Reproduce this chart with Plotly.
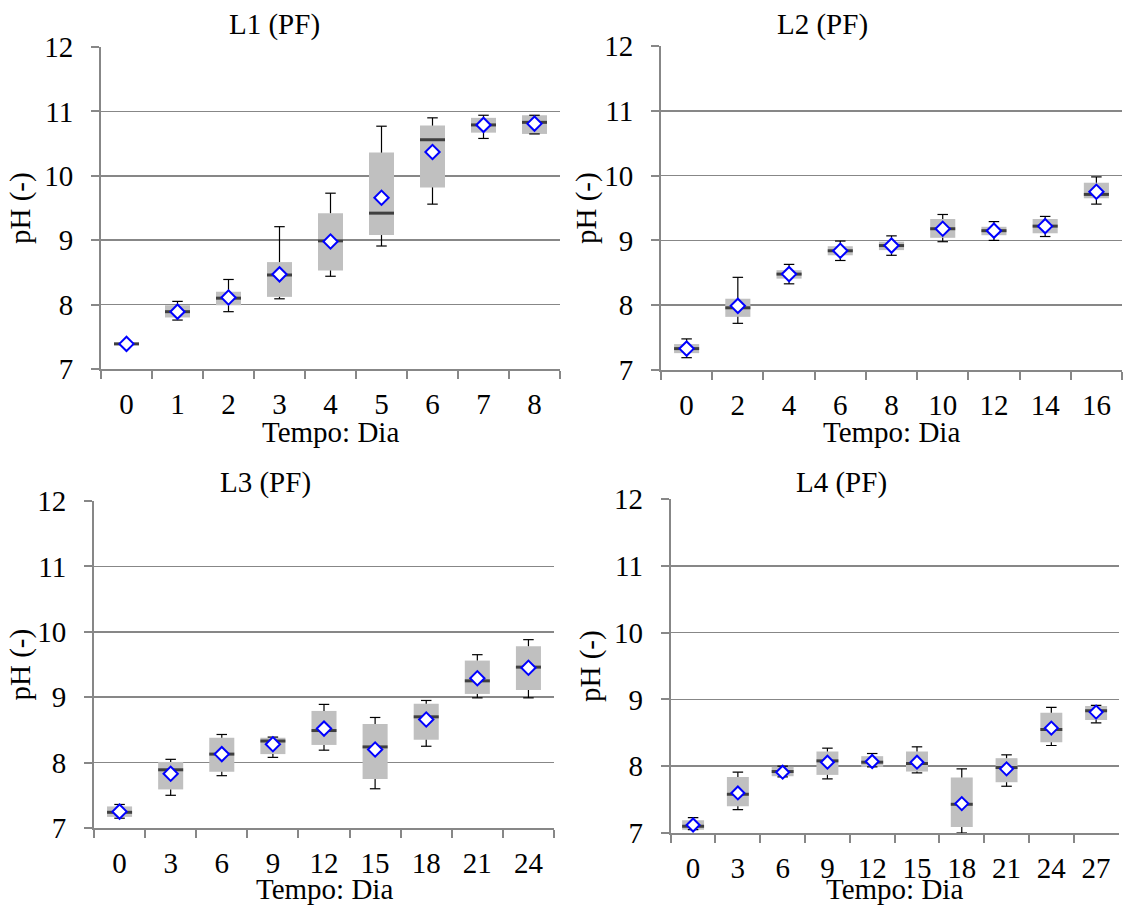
import plotly.graph_objects as go

W, H = 1123, 907

# ---------------- data ----------------
# L1 (PF)
l1_days = ["0", "1", "2", "3", "4", "5", "6", "7", "8"]
l1_lower = [7.37, 7.76, 7.89, 8.09, 8.44, 8.91, 9.56, 10.58, 10.65]
l1_q1 = [7.37, 7.80, 7.99, 8.12, 8.53, 9.08, 9.82, 10.67, 10.65]
l1_median = [7.39, 7.89, 8.10, 8.46, 8.99, 9.42, 10.56, 10.79, 10.83]
l1_q3 = [7.41, 7.99, 8.20, 8.66, 9.42, 10.36, 10.78, 10.90, 10.94]
l1_upper = [7.41, 8.05, 8.39, 9.21, 9.73, 10.77, 10.90, 10.94, 10.94]
l1_mean = [7.39, 7.89, 8.11, 8.47, 8.98, 9.66, 10.37, 10.79, 10.81]

# L2 (PF)
l2_days = ["0", "2", "4", "6", "8", "10", "12", "14", "16"]
l2_lower = [7.19, 7.72, 8.33, 8.69, 8.77, 8.98, 9.00, 9.06, 9.56]
l2_q1 = [7.26, 7.82, 8.41, 8.77, 8.85, 9.04, 9.08, 9.11, 9.65]
l2_median = [7.33, 7.96, 8.48, 8.84, 8.92, 9.18, 9.15, 9.22, 9.71]
l2_q3 = [7.40, 8.10, 8.54, 8.91, 8.98, 9.33, 9.21, 9.33, 9.89]
l2_upper = [7.48, 8.43, 8.63, 8.99, 9.07, 9.40, 9.29, 9.37, 9.98]
l2_mean = [7.33, 7.99, 8.48, 8.84, 8.92, 9.18, 9.15, 9.22, 9.75]

# L3 (PF)
l3_days = ["0", "3", "6", "9", "12", "15", "18", "21", "24"]
l3_lower = [7.15, 7.50, 7.80, 8.08, 8.19, 7.60, 8.25, 8.99, 8.99]
l3_q1 = [7.17, 7.59, 7.86, 8.13, 8.27, 7.75, 8.35, 9.05, 9.11]
l3_median = [7.24, 7.89, 8.13, 8.33, 8.49, 8.24, 8.70, 9.25, 9.46]
l3_q3 = [7.33, 8.01, 8.38, 8.38, 8.79, 8.59, 8.90, 9.56, 9.78]
l3_upper = [7.36, 8.05, 8.43, 8.39, 8.89, 8.69, 8.95, 9.65, 9.88]
l3_mean = [7.25, 7.83, 8.13, 8.28, 8.52, 8.20, 8.66, 9.29, 9.45]

# L4 (PF)
l4_days = ["0", "3", "6", "9", "12", "15", "18", "21", "24", "27"]
l4_lower = [7.05, 7.35, 7.84, 7.81, 7.99, 7.90, 7.00, 7.70, 8.31, 8.65]
l4_q1 = [7.05, 7.40, 7.85, 7.87, 7.99, 7.92, 7.09, 7.76, 8.36, 8.69]
l4_median = [7.10, 7.58, 7.92, 8.08, 8.06, 8.04, 7.43, 7.98, 8.55, 8.83]
l4_q3 = [7.19, 7.84, 7.99, 8.22, 8.15, 8.22, 7.83, 8.12, 8.80, 8.90]
l4_upper = [7.23, 7.91, 8.00, 8.27, 8.19, 8.29, 7.96, 8.17, 8.88, 8.91]
l4_mean = [7.12, 7.60, 7.91, 8.06, 8.07, 8.06, 7.44, 7.96, 8.57, 8.81]

titles = ["L1 (PF)", "L2 (PF)", "L3 (PF)", "L4 (PF)"]
x_title = "Tempo: Dia"
y_title = "pH (-)"
y_ticks = [7, 8, 9, 10, 11, 12]

# ---------------- style / layout ----------------
FONT = "'Liberation Serif', 'Times New Roman', serif"
GRAY = "#878787"
BOX = "#C0C0C0"
MED = "#3F3F3F"
BLUE = "#0000FF"

# plot areas in pixels: (x0, x1, ytop, ybottom)
areas = [
    (101, 560, 47, 369),
    (661, 1122, 46, 370),
    (94, 554, 501, 828),
    (670.7, 1118.5, 499, 833),
]
title_pos = [(274, 24), (822, 24), (265, 483), (841, 482)]
ytitle_x = [20, 586, 20, 590]
xtitle_y = [432, 432, 889, 889]

panels = [
    (l1_days, l1_lower, l1_q1, l1_median, l1_q3, l1_upper, l1_mean),
    (l2_days, l2_lower, l2_q1, l2_median, l2_q3, l2_upper, l2_mean),
    (l3_days, l3_lower, l3_q1, l3_median, l3_q3, l3_upper, l3_mean),
    (l4_days, l4_lower, l4_q1, l4_median, l4_q3, l4_upper, l4_mean),
]

fig = go.Figure()
layout = dict(
    template="none",
    width=W, height=H,
    margin=dict(l=0, r=0, t=0, b=0, autoexpand=False),
    paper_bgcolor="white", plot_bgcolor="white",
    showlegend=False,
    font=dict(family=FONT, size=29, color="black"),
    annotations=[],
)

BOXW = 0.49
for i, (days, lo, q1, med, q3, up, mean) in enumerate(panels):
    n = i + 1
    xa = "x" if n == 1 else f"x{n}"
    ya = "y" if n == 1 else f"y{n}"
    x0, x1, yt, yb = areas[i]
    cat_px = (x1 - x0) / len(days)
    box_px = BOXW * cat_px

    # boxes (q1..q3)
    fig.add_trace(go.Bar(
        x=days, y=[b - a for a, b in zip(q1, q3)], base=q1,
        width=BOXW, marker=dict(color=BOX, line=dict(width=0)),
        xaxis=xa, yaxis=ya, hoverinfo="skip",
    ))
    # upper whiskers with caps
    fig.add_trace(go.Scatter(
        x=days, y=up, mode="markers", xaxis=xa, yaxis=ya,
        marker=dict(symbol="line-ew", size=7.5, color="black",
                    line=dict(color="black", width=1.2)),
        error_y=dict(type="data", symmetric=False, array=[0] * len(days),
                     arrayminus=[u - b for u, b in zip(up, q3)],
                     width=0, thickness=1.2, color="black"),
        hoverinfo="skip",
    ))
    # lower whiskers with caps
    fig.add_trace(go.Scatter(
        x=days, y=lo, mode="markers", xaxis=xa, yaxis=ya,
        marker=dict(symbol="line-ew", size=7.5, color="black",
                    line=dict(color="black", width=1.2)),
        error_y=dict(type="data", symmetric=False,
                     array=[a - l for a, l in zip(q1, lo)],
                     arrayminus=[0] * len(days),
                     width=0, thickness=1.2, color="black"),
        hoverinfo="skip",
    ))
    # medians
    fig.add_trace(go.Scatter(
        x=days, y=med, mode="markers", xaxis=xa, yaxis=ya,
        marker=dict(symbol="line-ew", size=box_px / 1.4, color=MED,
                    line=dict(color=MED, width=3)),
        hoverinfo="skip",
    ))
    # means
    fig.add_trace(go.Scatter(
        x=days, y=mean, mode="markers", xaxis=xa, yaxis=ya,
        marker=dict(symbol="diamond", size=11 if n < 4 else 10, color="white",
                    line=dict(color=BLUE, width=2)),
        hoverinfo="skip",
    ))

    xkey = "xaxis" if n == 1 else f"xaxis{n}"
    ykey = "yaxis" if n == 1 else f"yaxis{n}"
    layout[xkey] = dict(
        domain=[x0 / W, x1 / W], anchor=ya, type="category",
        range=[-0.5, len(days) - 0.5], tickson="boundaries",
        showline=True, linecolor=GRAY, linewidth=2,
        ticks="outside", ticklen=8, tickwidth=2, tickcolor=GRAY,
        showgrid=False, zeroline=False, automargin=False,
        tickfont=dict(family=FONT, size=29, color="black"),
        ticklabelstandoff=8,
        fixedrange=True,
    )
    layout[ykey] = dict(
        domain=[1 - yb / H, 1 - yt / H], anchor=xa,
        range=[7, 12], tickvals=y_ticks,
        showline=True, linecolor=GRAY, linewidth=2,
        ticks="outside", ticklen=8, tickwidth=2, tickcolor=GRAY,
        showgrid=True, gridcolor=GRAY, gridwidth=1.5,
        zeroline=False, automargin=False,
        tickfont=dict(family=FONT, size=29, color="black"),
        ticklabelstandoff=12,
        fixedrange=True,
    )

    tx, ty = title_pos[i]
    layout["annotations"].append(dict(
        text=titles[i], x=tx / W, y=1 - ty / H, xref="paper", yref="paper",
        xanchor="center", yanchor="middle", showarrow=False,
        font=dict(family=FONT, size=29, color="black"),
    ))
    layout["annotations"].append(dict(
        text=x_title, x=(x0 + x1) / 2 / W, y=1 - xtitle_y[i] / H,
        xref="paper", yref="paper", xanchor="center", yanchor="middle",
        showarrow=False, font=dict(family=FONT, size=29, color="black"),
    ))
    layout["annotations"].append(dict(
        text=y_title, x=ytitle_x[i] / W, y=1 - (yt + yb) / 2 / H,
        xref="paper", yref="paper", xanchor="center", yanchor="middle",
        textangle=-90, showarrow=False,
        font=dict(family=FONT, size=29, color="black"),
    ))

fig.update_layout(**layout)
fig.write_html(
    "out.html",
    config={"displayModeBar": False, "staticPlot": True},
    post_script="document.body.style.margin='0';document.body.style.overflow='hidden';",
)
